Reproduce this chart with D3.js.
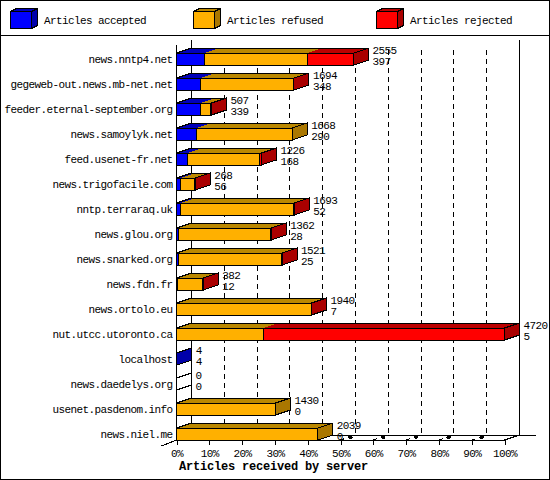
<!DOCTYPE html>
<html>
<head>
<meta charset="utf-8">
<script src="https://cdn.jsdelivr.net/npm/d3@7"></script>
<style>
  html, body { margin: 0; padding: 0; background: #fff; }
  svg { display: block; opacity: 0.999; }
  text { font-family: "Liberation Mono", monospace; font-size: 11px; letter-spacing: -0.6px; fill: #000; }
</style>
</head>
<body>
<div id="chart"></div>
<script>
const hosts = ["news.nntp4.net", "gegeweb-out.news.mb-net.net", "feeder.eternal-september.org",
  "news.samoylyk.net", "feed.usenet-fr.net", "news.trigofacile.com", "nntp.terraraq.uk", "news.glou.org",
  "news.snarked.org", "news.fdn.fr", "news.ortolo.eu", "nut.utcc.utoronto.ca", "localhost",
  "news.daedelys.org", "usenet.pasdenom.info", "news.niel.me"];

// labels printed next to each bar
const totals = [2555, 1694, 507, 1668, 1226, 268, 1693, 1362, 1521, 382, 1940, 4720, 4, 0, 1430, 2039];
const accepted = [397, 348, 339, 290, 168, 56, 52, 28, 25, 12, 7, 5, 4, 0, 0, 0];

// widths of the three segments, in percent of the axis
const acceptedPct = [8.4, 7.4, 7.2, 6.1, 3.5, 1.2, 1.1, 0.6, 0.5, 0.25, 0.15, 0.1, 0.08, 0, 0, 0];
const refusedPct = [31.4, 28.3, 3.1, 29.2, 21.8, 4.4, 34.7, 28.2, 31.6, 7.8, 40.9, 26.4, 0, 0, 30.2, 43.1];
const rejectedPct = [14.2, 0.1, 0.4, 0, 0.6, 0.1, 0.1, 0.1, 0.1, 0.1, 0.1, 73.5, 0, 0, 0, 0];

const seriesNames = ["Articles accepted", "Articles refused", "Articles rejected"];
const ticks = [0, 10, 20, 30, 40, 50, 60, 70, 80, 90, 100];

const colors = [
  {front: "#0000ff", top: "#0000bb", side: "#0000aa"},
  {front: "#ffb000", top: "#bb8800", side: "#aa7700"},
  {front: "#ff0000", top: "#bb0000", side: "#aa0000"}
];

const width = 550, height = 480;
const depthX = 15, depthY = 5, barH = 12;

const svg = d3.select("#chart").append("svg")
    .attr("width", width)
    .attr("height", height);

const x = d3.scaleLinear().domain([0, 100]).range([176.5, 504.5]);
const y = d3.scaleBand().domain(hosts).range([40, 440]);

const crisp = sel => sel.attr("shape-rendering", "crispEdges");

// frame and legend separator
svg.append("rect")
    .attr("x", 0.5).attr("y", 0.5)
    .attr("width", width - 1).attr("height", height - 1)
    .attr("fill", "#fff").attr("stroke", "#000")
    .call(crisp);
svg.append("line")
    .attr("x1", 0).attr("x2", width)
    .attr("y1", 35.5).attr("y2", 35.5)
    .attr("stroke", "#000")
    .call(crisp);

// 3d box faces, used for the bars and the legend keys
function face(g, pts, fill, stroke = "#000") {
  g.append("path")
      .attr("d", d3.line()(pts) + "Z")
      .attr("fill", fill)
      .attr("stroke", stroke)
      .call(crisp);
}

// legend
const legend = svg.append("g");
seriesNames.forEach((name, i) => {
  const lx = 10.5 + i * 183, ly = 11.5, w = 21, h = 17, dx = 6, dy = 3;
  face(legend, [[lx, ly], [lx + dx, ly - dy], [lx + w + dx, ly - dy], [lx + w, ly]], colors[i].top);
  face(legend, [[lx + w, ly], [lx + w + dx, ly - dy], [lx + w + dx, ly + h - dy], [lx + w, ly + h]], colors[i].side);
  face(legend, [[lx, ly], [lx + w, ly], [lx + w, ly + h], [lx, ly + h]], colors[i].front);
  legend.append("text")
      .attr("x", 44 + i * 183)
      .attr("y", 24)
      .text(name);
});

// back wall
const bottom = y.range()[1];
const grid = svg.append("g").attr("stroke", "#000").call(crisp);
grid.selectAll(".grid")
  .data(ticks.slice(1, -1))
  .join("line")
    .attr("x1", d => x(d) + depthX).attr("x2", d => x(d) + depthX)
    .attr("y1", 50).attr("y2", bottom - depthY)
    .attr("stroke-dasharray", "5,4");
// floor lines running from the front axis to the wall
grid.selectAll(".floor")
  .data(ticks.slice(1, -1))
  .join("line")
    .attr("x1", d => x(d)).attr("x2", d => x(d) + depthX)
    .attr("y1", bottom).attr("y2", bottom - depthY)
    .attr("stroke-dasharray", "4,4");
grid.selectAll(".floorbit")
  .data(ticks.slice(1, -1))
  .join("line")
    .attr("x1", d => x(d) + depthX * 0.55).attr("x2", d => x(d) + depthX * 0.8)
    .attr("y1", bottom - depthY * 0.45).attr("y2", bottom - depthY * 0.65)
    .attr("stroke-width", 3);
grid.append("line")
    .attr("x1", x(100)).attr("x2", x(100) + depthX)
    .attr("y1", bottom).attr("y2", bottom - depthY);
grid.append("line")
    .attr("x1", x(0) - depthX).attr("x2", x(0))
    .attr("y1", bottom + depthY + 1).attr("y2", bottom);
grid.append("line")
    .attr("x1", x(0) + depthX).attr("x2", x(100) + depthX + 16)
    .attr("y1", bottom - depthY + 0.5).attr("y2", bottom - depthY + 0.5);
grid.selectAll(".wall")
  .data([0, 100])
  .join("line")
    .attr("x1", d => x(d) + depthX).attr("x2", d => x(d) + depthX)
    .attr("y1", 40).attr("y2", bottom - depthY);
grid.append("line")
    .attr("x1", x(0)).attr("x2", x(0))
    .attr("y1", 45).attr("y2", bottom);

// bars
hosts.forEach((host, i) => {
  const g = svg.append("g");
  const y1 = y(host) + y.bandwidth() - barH, y2 = y1 + barH;
  const widths = [acceptedPct[i], refusedPct[i], rejectedPct[i]];
  let left = 0, lastColor = -1;
  // top faces first, no black line between the segments
  widths.forEach((v, s) => {
    if (v <= 0) return;
    const a = x(left), b = x(left + v);
    face(g, [[a, y1], [a + depthX, y1 - depthY], [b + depthX, y1 - depthY], [b, y1]], colors[s].top, "none");
    left += v;
    lastColor = s;
  });
  const e = x(left);
  face(g, [[x(0), y1], [x(0) + depthX, y1 - depthY], [e + depthX, y1 - depthY], [e, y1]], "none");
  left = 0;
  widths.forEach((v, s) => {
    if (v <= 0) return;
    face(g, [[x(left), y1], [x(left + v), y1], [x(left + v), y2], [x(left), y2]], colors[s].front);
    left += v;
  });
  face(g, [[e, y1], [e + depthX, y1 - depthY], [e + depthX, y2 - depthY], [e, y2]],
    lastColor < 0 ? "#fff" : colors[lastColor].side);
  g.append("text").attr("x", e + depthX + 4).attr("y", y1 + 1).text(totals[i]);
  g.append("text").attr("x", e + depthX + 4).attr("y", y1 + 12).text(accepted[i]);
  g.append("text").attr("x", 172.5).attr("y", y1 + 10).attr("text-anchor", "end").text(host);
});

// front axis
svg.append("g")
    .attr("transform", `translate(0,${bottom})`)
    .call(d3.axisBottom(x).tickValues(ticks).tickFormat(d => d + "%").tickSize(5).tickPadding(4))
    .call(g => g.selectAll("path, line").attr("stroke", "#000").call(crisp))
    .call(g => g.attr("font-family", null).attr("font-size", null));

svg.append("text")
    .attr("x", 273.5)
    .attr("y", 470)
    .attr("text-anchor", "middle")
    .style("font-weight", "bold")
    .style("font-size", "12px")
    .style("letter-spacing", "-0.2px")
    .text("Articles received by server");
</script>
</body>
</html>
